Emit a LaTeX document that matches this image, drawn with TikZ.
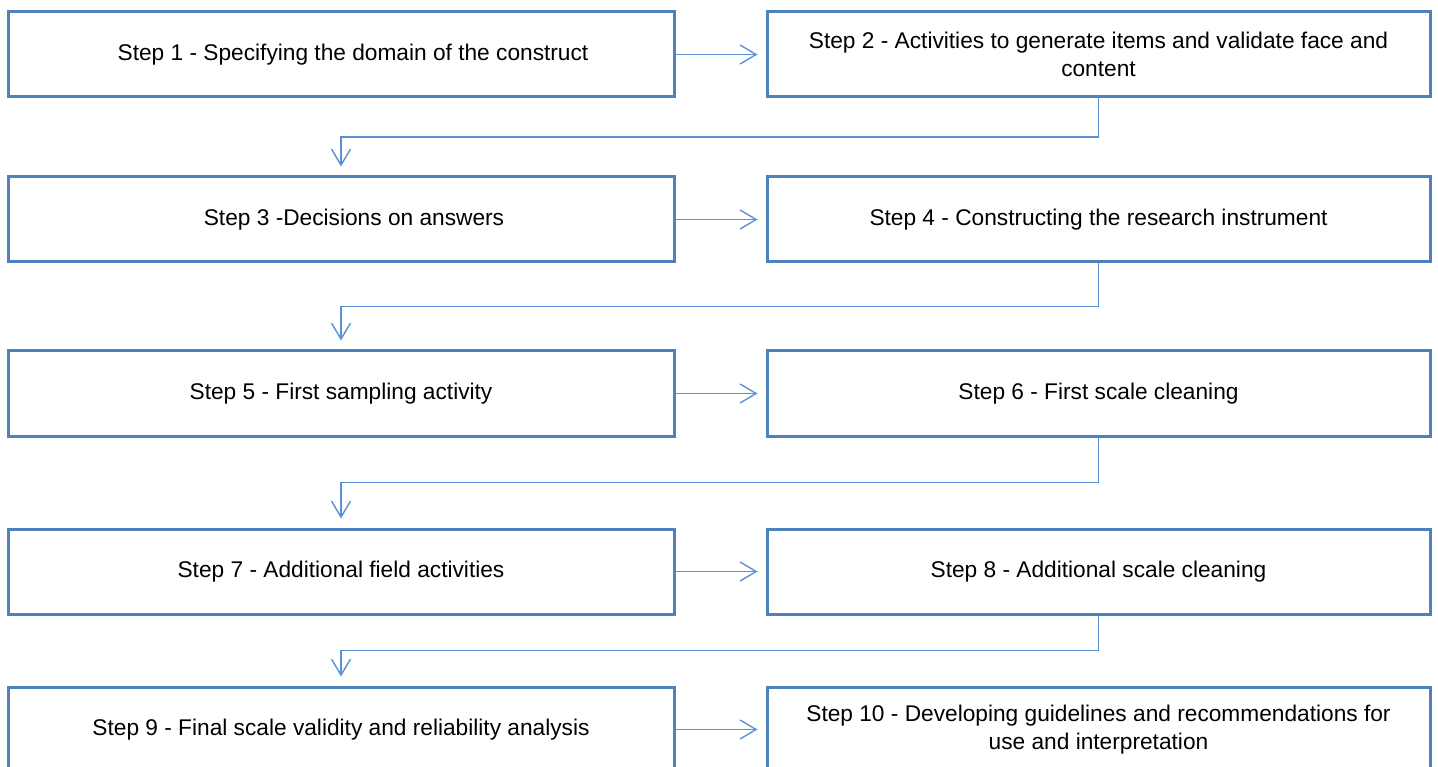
\documentclass[tikz,border=0pt]{standalone}
\usepackage{fontspec}
\setmainfont{Liberation Sans}
\usetikzlibrary{arrows.meta,calc}
\definecolor{boxblue}{RGB}{79,129,189}
\definecolor{lineblue}{RGB}{91,145,210}
\tikzset{
  stepbox/.style={draw=boxblue, line width=3pt, rectangle, minimum height=85pt, inner sep=0pt, align=center, font=\fontsize{22.7}{28}\selectfont, text=black},
  leftbox/.style={stepbox, minimum width=666pt},
  rightbox/.style={stepbox, minimum width=663pt},
  conn/.style={draw=lineblue, line width=1.4pt, -{Straight Barb[length=16pt,width=19pt,line width=1.4pt]}}
}
\begin{document}
\begin{tikzpicture}[x=1pt,y=-1pt]
\useasboundingbox (0,0) rectangle (1438,767);
\clip (0,0) rectangle (1438,767);
\node[leftbox]  (b1)  at (341,54.5)    {\hspace*{24pt}Step 1 - Specifying the domain of the construct};
\node[rightbox] (b2)  at (1098.5,54.5) {Step 2 - Activities to generate items and validate face and\\content};
\node[leftbox]  (b3)  at (341,219.5)   {\hspace*{26pt}Step 3 -Decisions on answers};
\node[rightbox] (b4)  at (1098.5,219.5){Step 4 - Constructing the research instrument};
\node[leftbox]  (b5)  at (341,393.5)   {Step 5 - First sampling activity};
\node[rightbox] (b6)  at (1098.5,393.5){Step 6 - First scale cleaning};
\node[leftbox]  (b7)  at (341,571.5)   {Step 7 - Additional field activities};
\node[rightbox] (b8)  at (1098.5,571.5){Step 8 - Additional scale cleaning};
\node[leftbox]  (b9)  at (341,729.5)   {Step 9 - Final scale validity and reliability analysis};
\node[rightbox] (b10) at (1098.5,729.5){Step 10 - Developing guidelines and recommendations for\\use and interpretation};
\foreach \a/\b in {b1/b2,b3/b4,b5/b6,b7/b8,b9/b10}{
  \draw[conn, shorten >=8pt] (\a.east) -- (\b.west);
}
\foreach \a/\b in {b2/b3,b4/b5,b6/b7,b8/b9}{
  \draw[conn, shorten >=9pt] (\a.south) |- ($(\a.south)!0.5!(\b.north)$) -| (\b.north);
}
\end{tikzpicture}
\end{document}
